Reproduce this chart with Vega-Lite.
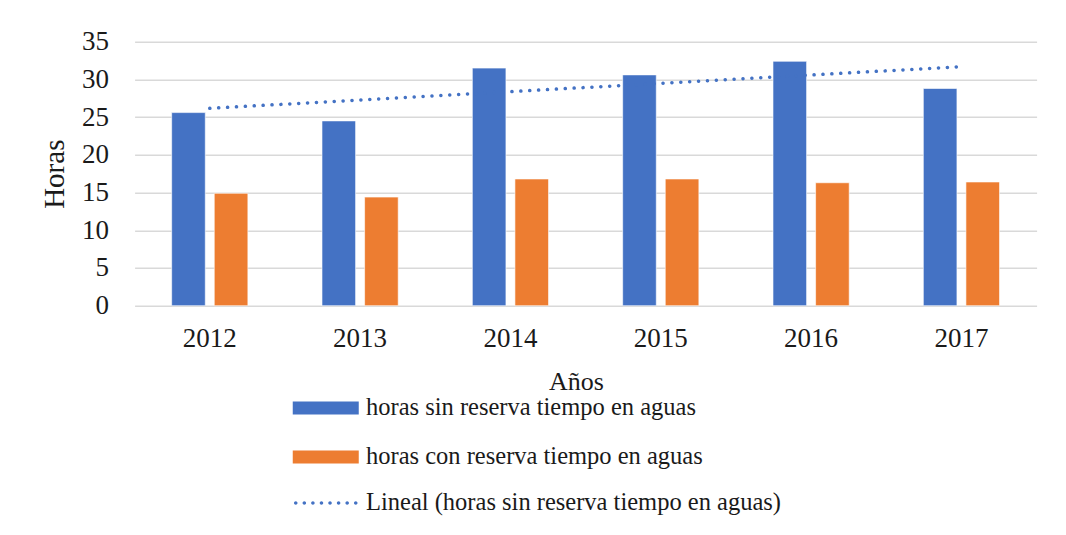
{
  "$schema": "https://vega.github.io/schema/vega-lite/v6.json",
  "width": 902,
  "height": 264,
  "autosize": {"type": "none"},
  "padding": {"left": 134.6, "top": 41.7, "right": 29.4, "bottom": 229.3},
  "background": "#ffffff",
  "config": {
    "font": "Liberation Serif",
    "view": {"stroke": null},
    "axis": {"labelFont": "Liberation Serif", "titleFont": "Liberation Serif", "labelColor": "#1a1a1a", "titleColor": "#1a1a1a", "titleFontWeight": "normal"},
    "legend": {"labelFont": "Liberation Serif", "labelColor": "#1a1a1a"}
  },
  "datasets": {
    "barras": [
      {"anio": "2012", "serie": "horas sin reserva tiempo en aguas", "horas": 25.6},
      {"anio": "2012", "serie": "horas con reserva tiempo en aguas", "horas": 14.9},
      {"anio": "2013", "serie": "horas sin reserva tiempo en aguas", "horas": 24.5},
      {"anio": "2013", "serie": "horas con reserva tiempo en aguas", "horas": 14.4},
      {"anio": "2014", "serie": "horas sin reserva tiempo en aguas", "horas": 31.5},
      {"anio": "2014", "serie": "horas con reserva tiempo en aguas", "horas": 16.8},
      {"anio": "2015", "serie": "horas sin reserva tiempo en aguas", "horas": 30.6},
      {"anio": "2015", "serie": "horas con reserva tiempo en aguas", "horas": 16.8},
      {"anio": "2016", "serie": "horas sin reserva tiempo en aguas", "horas": 32.4},
      {"anio": "2016", "serie": "horas con reserva tiempo en aguas", "horas": 16.3},
      {"anio": "2017", "serie": "horas sin reserva tiempo en aguas", "horas": 28.8},
      {"anio": "2017", "serie": "horas con reserva tiempo en aguas", "horas": 16.4}
    ],
    "tendencia": [
      {"anio": "2012", "serie": "Lineal (horas sin reserva tiempo en aguas)", "horas": 26.17},
      {"anio": "2013", "serie": "Lineal (horas sin reserva tiempo en aguas)", "horas": 27.27},
      {"anio": "2014", "serie": "Lineal (horas sin reserva tiempo en aguas)", "horas": 28.38},
      {"anio": "2015", "serie": "Lineal (horas sin reserva tiempo en aguas)", "horas": 29.48},
      {"anio": "2016", "serie": "Lineal (horas sin reserva tiempo en aguas)", "horas": 30.59},
      {"anio": "2017", "serie": "Lineal (horas sin reserva tiempo en aguas)", "horas": 31.69}
    ]
  },
  "encoding": {
    "x": {
      "field": "anio", "type": "nominal",
      "scale": {"paddingInner": 0, "paddingOuter": 0},
      "axis": {"title": "Años", "titleX": 441.4, "labelAngle": 0, "labelFontSize": 27, "titleFontSize": 26, "labelPadding": 20, "titlePadding": 16.5, "domain": false, "ticks": false}
    },
    "y": {
      "field": "horas", "type": "quantitative",
      "scale": {"domain": [0, 35], "nice": false},
      "axis": {"title": "Horas", "values": [0, 5, 10, 15, 20, 25, 30, 35], "labelOverlap": false, "labelFontSize": 27, "titleFontSize": 29, "labelPadding": 26, "titlePadding": 12, "domain": false, "ticks": false, "gridColor": "#d9d9d9", "gridWidth": 1.5}
    }
  },
  "layer": [
    {
      "data": {"name": "barras"},
      "mark": {"type": "bar", "stroke": "#ffffff", "strokeOpacity": 0.6, "strokeWidth": 1},
      "encoding": {
        "xOffset": {
          "field": "serie", "type": "nominal",
          "sort": ["horas sin reserva tiempo en aguas", "horas con reserva tiempo en aguas"],
          "scale": {"paddingInner": 0.211, "paddingOuter": 0.87}
        },
        "color": {
          "field": "serie", "type": "nominal",
          "scale": {
            "domain": ["horas sin reserva tiempo en aguas", "horas con reserva tiempo en aguas"],
            "range": ["#4472C4", "#ED7D31"]
          },
          "legend": {
            "title": null,
            "orient": "none",
            "legendX": 178.9,
            "legendY": 354,
            "direction": "vertical",
            "padding": 0,
            "labelFontSize": 24.5,
            "labelOffset": 28,
            "rowPadding": 24,
            "symbolSize": 100,
            "symbolType": "M-6.6,-1.3H6.6V1.3H-6.6Z",
            "symbolStrokeWidth": 0,
            "symbolOpacity": 1,
            "labelLimit": 600
          }
        }
      }
    },
    {
      "data": {"name": "tendencia"},
      "mark": {"type": "line", "strokeWidth": 3.5, "strokeDash": [0.1, 8.8], "strokeCap": "round"},
      "encoding": {
        "stroke": {
          "field": "serie", "type": "nominal",
          "scale": {"range": ["#4472C4"]},
          "legend": {
            "title": null,
            "orient": "none",
            "legendX": 178.9,
            "legendY": 449,
            "direction": "vertical",
            "padding": 0,
            "labelFontSize": 24.5,
            "labelOffset": 28,
            "symbolSize": 100,
            "symbolType": "M-6.35,0a0.35,0.35 0 1,0 0.7,0a0.35,0.35 0 1,0 -0.7,0ZM-4.636,0a0.35,0.35 0 1,0 0.7,0a0.35,0.35 0 1,0 -0.7,0ZM-2.921,0a0.35,0.35 0 1,0 0.7,0a0.35,0.35 0 1,0 -0.7,0ZM-1.207,0a0.35,0.35 0 1,0 0.7,0a0.35,0.35 0 1,0 -0.7,0ZM0.507,0a0.35,0.35 0 1,0 0.7,0a0.35,0.35 0 1,0 -0.7,0ZM2.221,0a0.35,0.35 0 1,0 0.7,0a0.35,0.35 0 1,0 -0.7,0ZM3.936,0a0.35,0.35 0 1,0 0.7,0a0.35,0.35 0 1,0 -0.7,0ZM5.65,0a0.35,0.35 0 1,0 0.7,0a0.35,0.35 0 1,0 -0.7,0Z",
            "symbolFillColor": "#4472C4",
            "symbolStrokeWidth": 0,
            "symbolOpacity": 1,
            "labelLimit": 600
          }
        }
      }
    }
  ]
}
